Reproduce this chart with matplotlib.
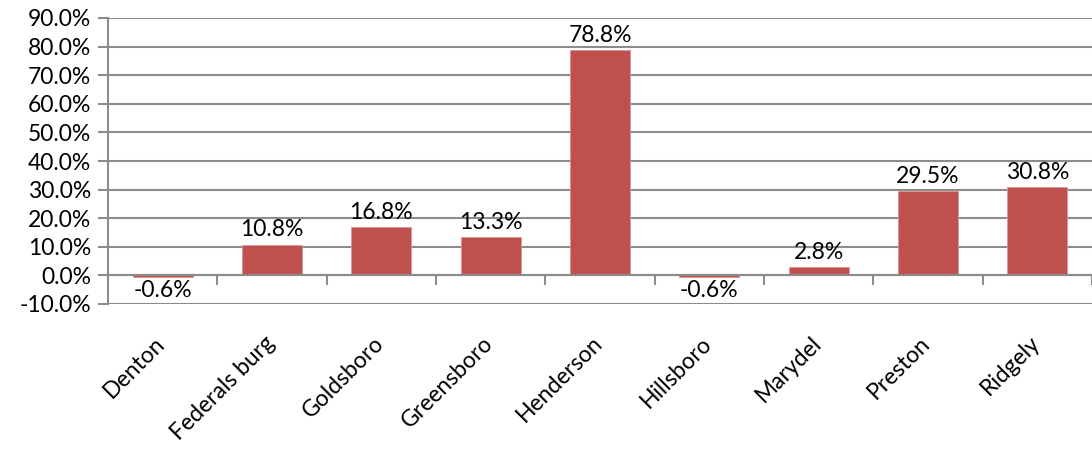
import matplotlib.pyplot as plt
import numpy as np

towns = ['Denton', 'Federals burg', 'Goldsboro', 'Greensboro', 'Henderson',
         'Hillsboro', 'Marydel', 'Preston', 'Ridgely']
change = [-0.6, 10.8, 16.8, 13.3, 78.8, -0.6, 2.8, 29.5, 30.8]
yticks = [-10, 0, 10, 20, 30, 40, 50, 60, 70, 80, 90]

plt.rcParams['font.family'] = ['Lato', 'DejaVu Sans']
grey = '#8c8c8c'
fs = 16.5

fig = plt.figure(figsize=(10.92, 4.51), dpi=100)
ax = fig.add_axes([108/1092, 1-304/451, 1-108/1092, (304-18)/451])

x = np.arange(len(towns))
ax.bar(x, change, width=0.55, color='#C0504D', edgecolor='#D99694', linewidth=0.6, zorder=3)

for xi, v in zip(x, change):
    if v >= 0:
        ax.annotate('%.1f%%' % v, (xi, v), xytext=(0, 3), textcoords='offset points',
                    ha='center', va='bottom', fontsize=fs)
    else:
        ax.annotate('%.1f%%' % v, (xi, 0), xytext=(0, -3), textcoords='offset points',
                    ha='center', va='top', fontsize=fs)

ax.set_ylim(-10, 90)
ax.set_xlim(-0.5, 8.5 - 6/110)
ax.set_yticks(yticks)
ax.set_yticklabels(['%.1f%%' % t for t in yticks], fontsize=fs)
ax.yaxis.grid(True, color=grey, linewidth=1.5, zorder=0)
ax.tick_params(axis='y', length=7, width=1.5, color=grey, pad=5)

# category axis crosses at zero, ticks between categories
ax.spines['bottom'].set_position(('data', 0))
ax.spines['bottom'].set_color(grey)
ax.spines['bottom'].set_linewidth(1.5)
ax.spines['bottom'].set_zorder(4)
ax.set_xticks(x + 0.5)
ax.set_xticklabels([])
ax.tick_params(axis='x', which='major', length=7, width=1.5, color=grey)
ax.set_xticks(x + 0.06, minor=True)
ax.set_xticklabels(towns, minor=True, rotation=45, ha='right', va='top', fontsize=fs)
ax.tick_params(axis='x', which='minor', length=0, pad=41)

ax.spines['left'].set_color(grey)
ax.spines['left'].set_linewidth(1.5)
ax.spines['top'].set_visible(False)
ax.spines['right'].set_visible(False)

plt.savefig('out.png', dpi=100)
